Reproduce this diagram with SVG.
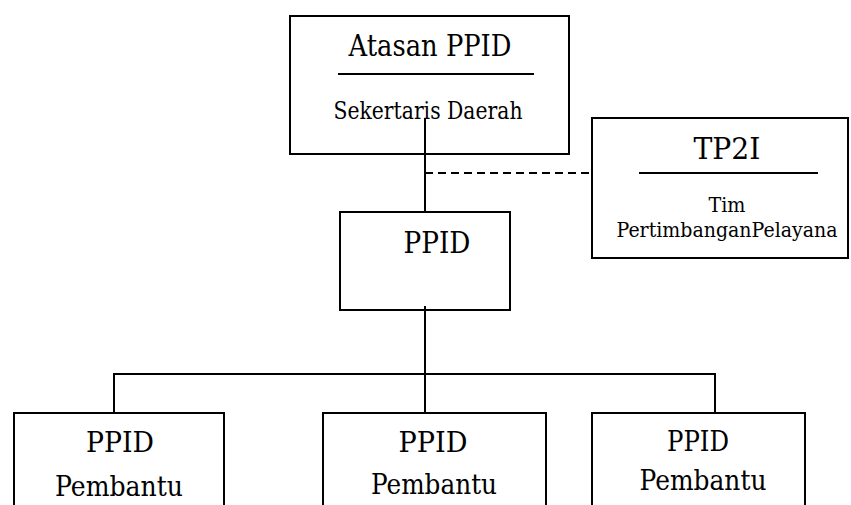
<svg xmlns="http://www.w3.org/2000/svg" width="851" height="505" viewBox="0 0 851 505">
<style>
.box{fill:#fff;stroke:#000;stroke-width:2}
.ln{fill:none;stroke:#000;stroke-width:2}
.dash{fill:none;stroke:#000;stroke-width:2;stroke-dasharray:8 5}
.t{font-family:'DejaVu Serif','Liberation Serif',serif;fill:#000;text-anchor:middle}
</style>
<rect width="851" height="505" fill="#fff"/>
<g id="atasan">
<rect class="box" x="290" y="16" width="279" height="138"/>
<text class="t" x="430" y="56" font-size="29" textLength="163" lengthAdjust="spacingAndGlyphs">Atasan PPID</text>
<line class="ln" x1="338" y1="74" x2="534" y2="74"/>
<text class="t" x="428" y="119" font-size="24" textLength="189" lengthAdjust="spacingAndGlyphs">Sekertaris Daerah</text>
</g>
<g id="tp2i">
<rect class="box" x="592" y="118" width="256" height="140"/>
<text class="t" x="727" y="159" font-size="29" textLength="67" lengthAdjust="spacingAndGlyphs">TP2I</text>
<line class="ln" x1="639" y1="173" x2="818" y2="173"/>
<text class="t" x="727" y="212" font-size="20" textLength="37" lengthAdjust="spacingAndGlyphs">Tim</text>
<text class="t" x="727" y="237" font-size="19.5" textLength="221" lengthAdjust="spacingAndGlyphs">PertimbanganPelayana</text>
</g>
<g id="ppid">
<rect class="box" x="340" y="212" width="170" height="98"/>
<text class="t" x="437" y="253" font-size="29" textLength="67" lengthAdjust="spacingAndGlyphs">PPID</text>
</g>
<g id="pembantu1">
<rect class="box" x="14" y="413" width="210" height="100"/>
<text class="t" x="120" y="452" font-size="28" textLength="68" lengthAdjust="spacingAndGlyphs">PPID</text>
<text class="t" x="119" y="496" font-size="28" textLength="128" lengthAdjust="spacingAndGlyphs">Pembantu</text>
</g>
<g id="pembantu2">
<rect class="box" x="323" y="413" width="223" height="100"/>
<text class="t" x="433" y="452" font-size="28" textLength="69" lengthAdjust="spacingAndGlyphs">PPID</text>
<text class="t" x="434" y="494" font-size="28" textLength="126" lengthAdjust="spacingAndGlyphs">Pembantu</text>
</g>
<g id="pembantu3">
<rect class="box" x="592" y="413" width="213" height="100"/>
<text class="t" x="698" y="451" font-size="27" textLength="62" lengthAdjust="spacingAndGlyphs">PPID</text>
<text class="t" x="703" y="490" font-size="27" textLength="127" lengthAdjust="spacingAndGlyphs">Pembantu</text>
</g>
<g id="connectors">
<line class="ln" x1="425" y1="118" x2="425" y2="212"/>
<line class="dash" x1="425" y1="173" x2="592" y2="173"/>
<line class="ln" x1="425" y1="306" x2="425" y2="413"/>
<polyline class="ln" points="114,413 114,374 715,374 715,413"/>
</g>
</svg>
